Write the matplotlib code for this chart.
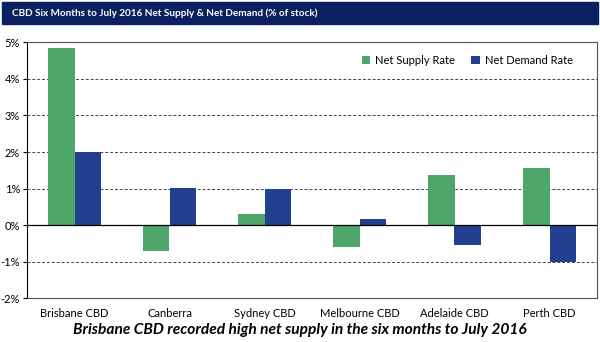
import matplotlib.pyplot as plt
import numpy as np
from matplotlib.patches import Rectangle

cities = ['Brisbane CBD', 'Canberra', 'Sydney CBD', 'Melbourne CBD', 'Adelaide CBD', 'Perth CBD']
net_supply = [4.85, -0.70, 0.30, -0.60, 1.38, 1.57]
net_demand = [2.00, 1.01, 1.00, 0.17, -0.55, -1.00]
yticks = [-2, -1, 0, 1, 2, 3, 4, 5]

green = '#4ea66a'
blue = '#21408f'
navy = '#0b2060'

plt.rcParams['font.family'] = ['Lato', 'DejaVu Sans']

fig = plt.figure(figsize=(6, 3.42), dpi=100)
ax = fig.add_axes([0.045, 0.128, 0.95, 0.748])

x = np.arange(len(cities))
w = 0.28
ax.bar(x - w / 2, net_supply, w, color=green, label='Net Supply Rate', zorder=3)
ax.bar(x + w / 2, net_demand, w, color=blue, label='Net Demand Rate', zorder=3)

ax.set_xlim(-0.5, len(cities) - 0.5)
ax.set_ylim(-2, 5)
ax.set_yticks(yticks)
ax.set_yticklabels([f'{t}%' for t in yticks], fontsize=8)
ax.set_xticks(x)
ax.set_xticklabels(cities, fontsize=8)
ax.tick_params(axis='x', length=0, pad=7)
ax.tick_params(axis='y', length=3, width=0.8, pad=2)
for t in yticks:
    if t == 0:
        ax.axhline(0, color='black', lw=0.9, zorder=4)
    elif t in (-2, 5):
        continue
    else:
        ax.axhline(t, color='#444444', lw=0.7, ls=(0, (3, 2)), zorder=1)
for s in ax.spines.values():
    s.set_linewidth(0.8)
    s.set_color('#555555')
ax.spines['left'].set_color('black')

ax.legend(loc='upper right', bbox_to_anchor=(0.975, 0.99), frameon=False, fontsize=8,
          handlelength=0.8, handleheight=0.8, handletextpad=0.4, ncol=2, columnspacing=1.5)

fig.patches.append(Rectangle((0.004, 0.93), 0.992, 0.064, transform=fig.transFigure,
                             color=navy, zorder=0))
fig.text(0.02, 0.962, 'CBD Six Months to July 2016 Net Supply & Net Demand (% of stock)',
         color='white', fontsize=7.2, fontweight='bold', va='center', ha='left')
fig.text(0.5, 0.035, 'Brisbane CBD recorded high net supply in the six months to July 2016',
         fontsize=11.2, fontweight='bold', style='italic', ha='center', va='center')

fig.savefig('out.png', dpi=100)
